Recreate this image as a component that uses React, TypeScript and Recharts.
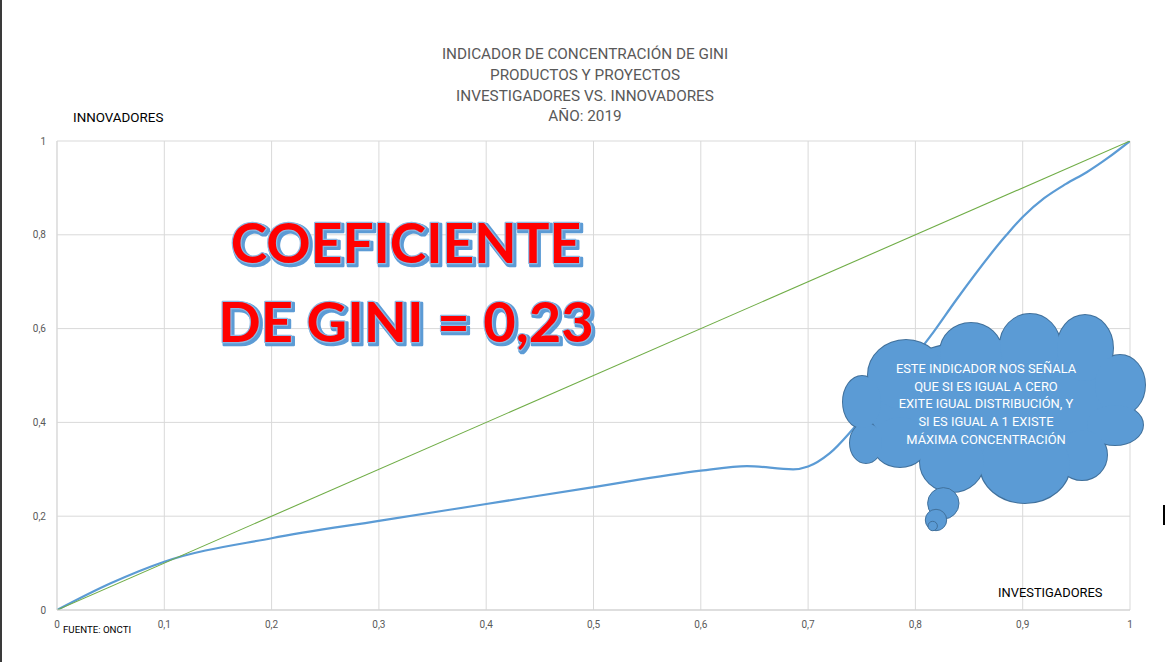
import React from 'react';
import { LineChart, Line, XAxis, YAxis, CartesianGrid } from 'recharts';

// ---- data ----
const investigadores = [0, 0.05, 0.1, 0.2, 0.3, 0.4, 0.5, 0.6, 0.643, 0.686, 0.7, 0.72, 0.745, 0.817, 0.838, 0.885, 0.9, 0.92, 0.94, 0.96, 0.98, 1];
const innovadores = [0, 0.057, 0.103, 0.153, 0.19, 0.226, 0.262, 0.297, 0.307, 0.3, 0.306, 0.334, 0.394, 0.593, 0.661, 0.8, 0.838, 0.878, 0.908, 0.934, 0.965, 1];
const equalityX = [0, 1];
const equalityY = [0, 1];
const xTicks = [0, 0.1, 0.2, 0.3, 0.4, 0.5, 0.6, 0.7, 0.8, 0.9, 1];
const yTicks = [0, 0.2, 0.4, 0.6, 0.8, 1];

const titleLines = [
  'INDICADOR DE CONCENTRACIÓN DE GINI',
  'PRODUCTOS Y PROYECTOS',
  'INVESTIGADORES VS. INNOVADORES',
  'AÑO: 2019',
];
const giniLines = ['COEFICIENTE', 'DE GINI = 0,23'];
const cloudLines = [
  'ESTE INDICADOR NOS SEÑALA',
  'QUE SI  ES IGUAL A CERO',
  'EXITE IGUAL DISTRIBUCIÓN, Y',
  'SI ES IGUAL A 1 EXISTE',
  'MÁXIMA CONCENTRACIÓN',
];
const yAxisTitle = 'INNOVADORES';
const xAxisTitle = 'INVESTIGADORES';
const sourceText = 'FUENTE: ONCTI';

const lorenzData = investigadores.map((x, i) => ({ x, y: innovadores[i] }));
const equalityData = equalityX.map((x, i) => ({ x, y: equalityY[i] }));

const fmt = (v: number) => String(v).replace('.', ',');

const FONT = 'Roboto, "Open Sans", sans-serif';
const BIG_FONT = 'Lato, Roboto, sans-serif';

// cloud lobes (overlay decoration)
const lobes: [number, number, number, number][] = [
  [993, 405, 125, 65],
  [906, 375, 38, 35],
  [971, 352, 31, 29],
  [1030, 345, 30, 31],
  [1085, 348, 28, 33],
  [1120, 385, 25, 30],
  [1115, 425, 28, 20],
  [1082, 455, 25, 25],
  [1025, 465, 45, 38],
  [952, 462, 32, 30],
  [900, 442, 28, 25],
  [866, 443, 16, 20],
  [862, 402, 19, 26],
];
const bubbles: [number, number, number][] = [
  [943.3, 503.3, 15.7],
  [936, 520, 10.7],
  [932.7, 526, 4.7],
];

const CLOUD_FILL = '#5B9BD5';
const CLOUD_STROKE = '#41719C';

function Overlay() {
  return (
    <svg
      width={1165}
      height={662}
      style={{ position: 'absolute', left: 0, top: 0, pointerEvents: 'none' }}
    >
      <defs>
        <filter id="giniShadow" x="-10%" y="-30%" width="120%" height="160%">
          <feMorphology in="SourceAlpha" operator="dilate" radius="1.3" result="dil" />
          <feOffset in="dil" dx="2.2" dy="2.2" result="off" />
          <feFlood floodColor="#5B9BD5" result="col" />
          <feComposite in="col" in2="off" operator="in" result="shadow" />
          <feMerge>
            <feMergeNode in="shadow" />
            <feMergeNode in="SourceGraphic" />
          </feMerge>
        </filter>
      </defs>
      {titleLines.map((t, i) => (
        <text
          key={t}
          x={585}
          y={59 + i * 20.8}
          textAnchor="middle"
          fontFamily={FONT}
          fontSize={15.3}
          fill="#595959"
        >
          {t}
        </text>
      ))}
      <text x={73} y={122} fontFamily={FONT} fontSize={13.4} fill="#000">
        {yAxisTitle}
      </text>
      <text x={998} y={597.2} fontFamily={FONT} fontSize={12.9} fill="#000">
        {xAxisTitle}
      </text>
      <text x={63} y={632.5} fontFamily={FONT} fontSize={9.7} fill="#000">
        {sourceText}
      </text>

      {giniLines.map((t, i) => (
        <text
          key={t}
          x={406}
          y={263.3 + i * 78.4}
          textAnchor="middle"
          fontFamily={BIG_FONT}
          fontWeight={700}
          fontSize={i === 0 ? 55 : 56}
          fill="#FF0000"
          stroke="#8DB8E2"
          strokeWidth={2.4}
          strokeLinejoin="round"
          filter="url(#giniShadow)"
          style={{ paintOrder: 'stroke' }}
        >
          {t}
        </text>
      ))}

      {/* cloud callout */}
      {lobes.map(([cx, cy, rx, ry], i) => (
        <ellipse key={'s' + i} cx={cx} cy={cy} rx={rx} ry={ry} fill={CLOUD_FILL} stroke={CLOUD_STROKE} strokeWidth={2} />
      ))}
      {lobes.map(([cx, cy, rx, ry], i) => (
        <ellipse key={'f' + i} cx={cx} cy={cy} rx={rx} ry={ry} fill={CLOUD_FILL} />
      ))}
      {bubbles.map(([cx, cy, r], i) => (
        <circle key={'b' + i} cx={cx} cy={cy} r={r} fill={CLOUD_FILL} stroke={CLOUD_STROKE} strokeWidth={1} />
      ))}
      {cloudLines.map((t, i) => (
        <text
          key={t}
          x={986}
          y={373 + i * 17.7}
          textAnchor="middle"
          fontFamily={FONT}
          fontSize={12.9}
          fill="#FFFFFF"
        >
          {t}
        </text>
      ))}
    </svg>
  );
}

export default function App() {
  return (
    <div
      style={{
        position: 'absolute',
        left: 0,
        top: 0,
        width: 1165,
        height: 662,
        background: '#fff',
        overflow: 'hidden',
        fontFamily: FONT,
      }}
    >
      <LineChart width={1165} height={662} margin={{ top: 141, right: 35, bottom: 22, left: 7 }}>
        <CartesianGrid stroke="#d9d9d9" strokeWidth={1} />
        <XAxis
          type="number"
          dataKey="x"
          domain={[0, 1]}
          ticks={xTicks}
          tickFormatter={fmt}
          height={30}
          tickLine={false}
          tickSize={0}
          tickMargin={11}
          axisLine={{ stroke: '#d0d0d0' }}
          tick={{ fontSize: 10, fill: '#595959', fontFamily: FONT }}
          allowDataOverflow
        />
        <YAxis
          type="number"
          domain={[0, 1]}
          ticks={yTicks}
          tickFormatter={fmt}
          width={50}
          tickLine={false}
          tickSize={0}
          tickMargin={11}
          axisLine={{ stroke: '#d9d9d9' }}
          tick={{ fontSize: 10, fill: '#595959', fontFamily: FONT }}
          allowDataOverflow
        />
        <Line
          data={lorenzData}
          dataKey="y"
          type="monotone"
          stroke="#5B9BD5"
          strokeWidth={2.25}
          dot={false}
          activeDot={false}
          isAnimationActive={false}
        />
        <Line
          data={equalityData}
          dataKey="y"
          type="linear"
          stroke="#70AD47"
          strokeWidth={1.1}
          dot={false}
          activeDot={false}
          isAnimationActive={false}
        />
      </LineChart>
      <Overlay />
      <div style={{ position: 'absolute', left: 0, top: 0, width: 2, height: 662, background: '#3a3a3a' }} />
      <div style={{ position: 'absolute', left: 1163, top: 505, width: 2, height: 20, background: '#000' }} />
    </div>
  );
}
